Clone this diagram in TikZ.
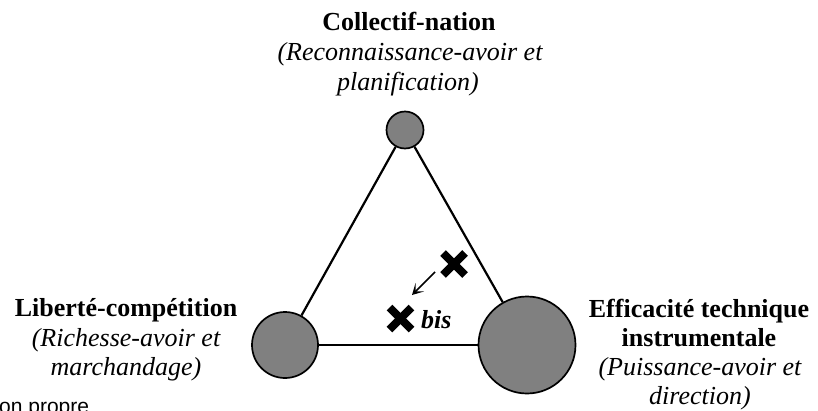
\documentclass[tikz,border=0pt]{standalone}
\usepackage{fontspec}
\setmainfont{Liberation Serif}
\setsansfont{Liberation Sans}
\usetikzlibrary{arrows.meta}
\definecolor{ballgray}{HTML}{808080}
\tikzset{
  ball/.style={circle,draw=black,line width=1.7pt,fill=ballgray,inner sep=0pt},
  edge/.style={line width=2.2pt},
  ttl/.style={anchor=base,inner sep=0pt,font=\fontsize{26}{30}\selectfont\bfseries},
  sub/.style={anchor=base,inner sep=0pt,font=\fontsize{26}{30}\selectfont\itshape},
  xmark/.style={line width=7.8pt,line cap=butt},
  shift arrow/.style={line width=1.6pt,-{Stealth[length=11pt,width=12pt,inset=6pt]}}
}
\begin{document}
\begin{tikzpicture}[x=1pt,y=-1pt]
\useasboundingbox (0,0) rectangle (818,410);
\clip (0,0) rectangle (818,410);
% circles
\node[ball,minimum size=37pt] (top) at (405,130) {};
\node[ball,minimum size=66pt] (left) at (285,345) {};
\node[ball,minimum size=97pt] (right) at (527,345) {};
% triangle edges
\draw[edge] (top) -- (left);
\draw[edge] (top) -- (right);
\draw[edge,line width=2.5pt] (left) -- (right);
% top labels
\node[ttl] (t1) at (409,30.5) {Collectif-nation};
\node[sub] (t2) at (410,60.5) {(Reconnaissance-avoir et};
\node[sub] (t3) at (408,90) {planification)};
% left labels
\node[ttl] (l1) at (126,316) {Liberté-compétition};
\node[sub] (l2) at (126,346) {(Richesse-avoir et};
\node[sub] (l3) at (126,375) {marchandage)};
% right labels
\node[ttl] (r1) at (699,317) {Efficacité technique};
\node[ttl] (r2) at (699,346) {instrumentale};
\node[sub] (r3) at (700,375) {(Puissance-avoir et};
\node[sub] (r4) at (700,404) {direction)};
% crosses
\coordinate (xa) at (454,264);
\coordinate (xb) at (400.5,318.5);
\draw[xmark] ([shift={(-11,-11)}]xa) -- ([shift={(11,11)}]xa);
\draw[xmark] ([shift={(-11,11)}]xa) -- ([shift={(11,-11)}]xa);
\draw[xmark] ([shift={(-11,-11)}]xb) -- ([shift={(11,11)}]xb);
\draw[xmark] ([shift={(-11,11)}]xb) -- ([shift={(11,-11)}]xb);
\node[anchor=base west,inner sep=0pt,font=\fontsize{26}{30}\selectfont\bfseries\itshape] (bis) at (421,328) {bis};
\coordinate (as) at (435,272);
\coordinate (ae) at (412,295);
\draw[shift arrow] (as) -- (ae);
% clipped text
\node[anchor=base west,inner sep=0pt,font=\sffamily\fontsize{21}{24}\selectfont] (frag) at (-1,413) {on propre};
\end{tikzpicture}
\end{document}
